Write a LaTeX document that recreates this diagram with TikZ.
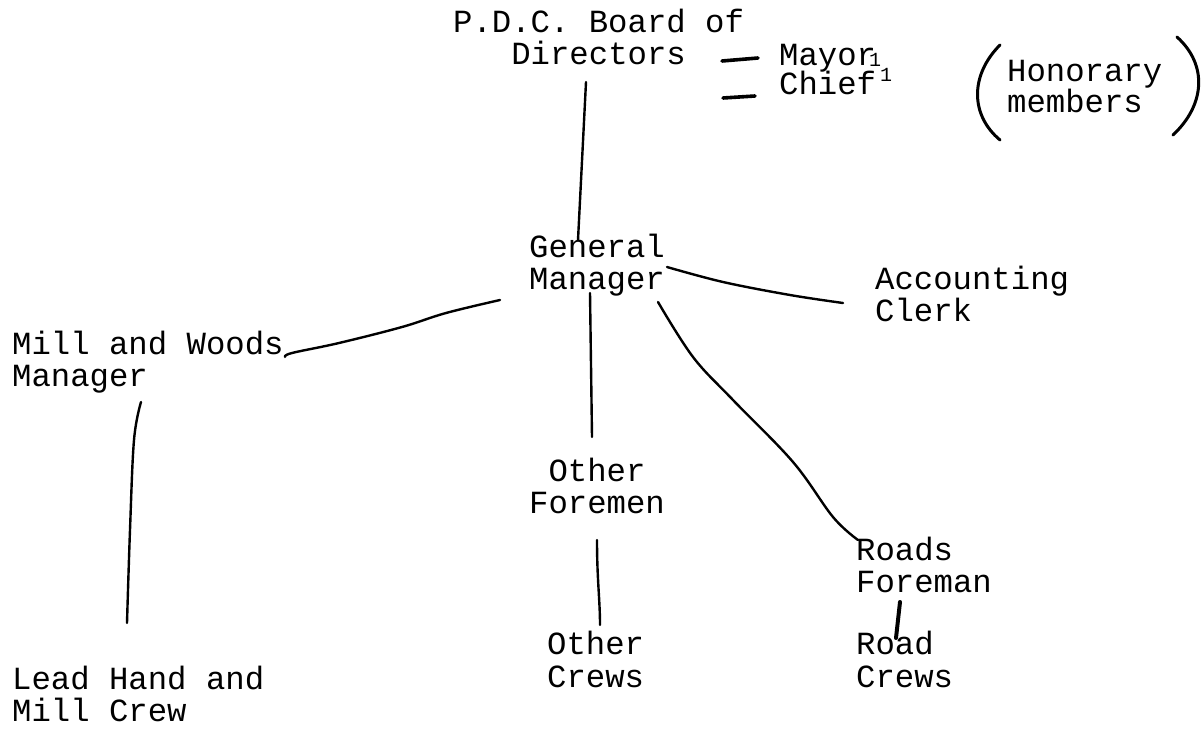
\documentclass[tikz,border=0pt]{standalone}
\usepackage{fontspec}
\newfontfamily\tw{Liberation Mono}
\begin{document}
\begin{tikzpicture}[x=1pt,y=-1pt,
  lbl/.style={inner sep=0pt,anchor=base west,align=left,font=\tw\fontsize{32.3}{32}\selectfont},
  lblc/.style={lbl,align=center},
  conn/.style={line width=2.4pt,line cap=round,line join=round},
  tick/.style={line width=3.6pt,line cap=round},
  paren/.style={line width=3pt,line cap=round}]
\useasboundingbox[fill=white] (0,0) rectangle (1204,749);
% nodes (anchor = baseline of the last line)
\node[lblc] (board) at (453,65) {P.D.C. Board of\\Directors};
\node[lbl] (mayor) at (779,66) {Mayor\kern-7pt\raisebox{-1pt}{\fontsize{20}{20}\selectfont 1}};
\node[lbl] (chief) at (779,95) {Chief\kern4pt\raisebox{13pt}{\fontsize{20}{20}\selectfont 1}};
\node[lbl,font=\tw\fontsize{32.3}{30}\selectfont] (hon) at (1007,113) {Honorary\\members};
\node[lbl] (gm) at (529,289) {General\\Manager};
\node[lbl] (acc) at (875,321) {Accounting\\Clerk};
\node[lbl] (mwm) at (12,386) {Mill and Woods\\Manager};
\node[lblc] (ofm) at (529,513) {Other\\Foremen};
\node[lbl] (rf) at (856,592) {Roads\\Foreman};
\node[lbl,font=\tw\fontsize{32.3}{33}\selectfont] (oc) at (547,687) {Other\\Crews};
\node[lbl,font=\tw\fontsize{32.3}{33}\selectfont] (rc) at (856,687) {Road\\Crews};
\node[lbl] (lead) at (12,721) {Lead Hand and\\Mill Crew};
% connector end points
\coordinate (board-s) at (586,82);
\coordinate (gm-n) at (578,240);
\coordinate (gm-s) at (590,293);
\coordinate (ofm-n) at (592,437);
\coordinate (ofm-s) at (597,540);
\coordinate (oc-n) at (600,625);
\coordinate (gm-w) at (500,300);
\coordinate (mwm-e) at (285,357);
\coordinate (gm-e) at (667,267);
\coordinate (acc-w) at (843,303);
\coordinate (gm-se) at (658,302);
\coordinate (rf-n) at (858,540);
\coordinate (mwm-s) at (141,402);
\coordinate (lead-n) at (127,623);
\coordinate (rf-s) at (900,602);
\coordinate (rc-n) at (896,638);
\coordinate (mayor-w) at (758,58);
\coordinate (chief-w) at (755,96);
\coordinate (bd-e1) at (722,61);
\coordinate (bd-e2) at (723,98);
% connectors
\draw[conn] (board-s) -- (gm-n);
\draw[conn] (gm-s) -- (ofm-n);
\draw[conn] (ofm-s) .. controls (597,580) and (600,600) .. (oc-n);
\draw[conn] plot[smooth,tension=0.6] coordinates {(gm-w) (446,313) (402,327) (339,343) (292,353) (mwm-e)};
\draw[conn] plot[smooth,tension=0.6] coordinates {(gm-e) (723,282) (790,295) (acc-w)};
\draw[conn] plot[smooth,tension=0.6] coordinates {(gm-se) (693,357) (733,400) (793,462) (833,517) (rf-n)};
\draw[conn] plot[smooth,tension=0.6] coordinates {(mwm-s) (134,440) (130,530) (lead-n)};
\draw[line width=4pt,line cap=round] (rf-s) -- (rc-n);
\draw[tick] (bd-e1) -- (mayor-w);
\draw[tick] (bd-e2) -- (chief-w);
% brackets around honorary members
\coordinate (lp-t) at (1000,45);
\coordinate (lp-b) at (1000,140);
\coordinate (rp-t) at (1177,37);
\coordinate (rp-b) at (1173,135);
\draw[paren] (lp-t) .. controls (970,75) and (970,115) .. (lp-b);
\draw[paren] (rp-t) .. controls (1208,65) and (1205,105) .. (rp-b);
\end{tikzpicture}
\end{document}
